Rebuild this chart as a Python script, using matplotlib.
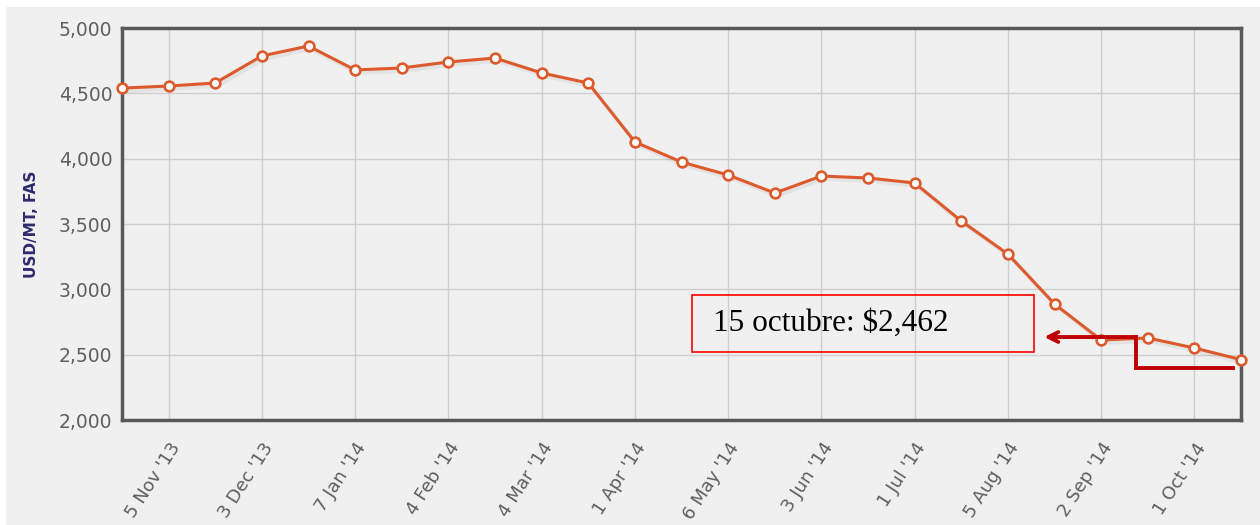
import matplotlib
matplotlib.use("Agg")
import matplotlib.pyplot as plt
from matplotlib.patches import Rectangle

# Data (biweekly prices, USD/MT FAS)
prices = [4540, 4556, 4579, 4786, 4862, 4679, 4694, 4740, 4770, 4656, 4579,
          4128, 3974, 3875, 3737, 3867, 3852, 3814, 3523, 3270, 2888, 2612,
          2628, 2551, 2462]
tick_idx = [1, 3, 5, 7, 9, 11, 13, 15, 17, 19, 21, 23]
tick_labels = ["5 Nov '13", "3 Dec '13", "7 Jan '14", "4 Feb '14", "4 Mar '14",
               "1 Apr '14", "6 May '14", "3 Jun '14", "1 Jul '14", "5 Aug '14",
               "2 Sep '14", "1 Oct '14"]
y_ticks = [2000, 2500, 3000, 3500, 4000, 4500, 5000]
annot_text = "15 octubre: $2,462"

bg = "#eff0ef"
fig = plt.figure(figsize=(12.6, 5.25), dpi=100)
fig.patch.set_facecolor("white")
bgax = fig.add_axes([6/1260, 0, 1 - 6/1260, 1 - 7/525], zorder=-10)
bgax.set_axis_off()
bgax.add_patch(Rectangle((0, 0), 1, 1, transform=bgax.transAxes,
                         facecolor=bg, edgecolor="none"))

ax = fig.add_axes([122/1260, 105/525, (1241-122)/1260, (420-28)/525], zorder=1)
ax.set_facecolor(bg)
x = list(range(len(prices)))

# subtle shadow
ax.plot([v + 0.05 for v in x], [p - 22 for p in prices], color="#000000",
        alpha=0.05, lw=3.0, zorder=2, solid_capstyle="round")
ax.plot(x, prices, color="#dd5a2c", lw=2.2, marker="o", markersize=7,
        markerfacecolor="white", markeredgecolor="#dd5a2c", markeredgewidth=1.9,
        zorder=3, clip_on=False)

ax.set_xlim(0, len(prices) - 1)
ax.set_ylim(2000, 5000)
ax.set_yticks(y_ticks)
ax.set_yticklabels([f"{v:,}" for v in y_ticks], fontsize=13.5, color="#5f5f5f")
ax.set_xticks(tick_idx)
ax.set_xticklabels(tick_labels, rotation=57, ha="right", rotation_mode="anchor",
                   fontsize=13, color="#5f5f5f")
ax.tick_params(axis="both", length=0)
ax.tick_params(axis="y", pad=7)
ax.tick_params(axis="x", pad=14)
ax.grid(True, color="#cdcecd", lw=1.0)
ax.set_axisbelow(True)
for s in ax.spines.values():
    s.set_color("#595959")
    s.set_linewidth(2.5)

ax.set_ylabel("USD/MT, FAS", fontsize=11, fontweight="bold", color="#2e2a6e",
              labelpad=14)

# annotation box
ax.add_patch(Rectangle((12.22, 2520), 19.55 - 12.22, 2957 - 2520, fill=False,
                       edgecolor="#ff0000", lw=1.2, zorder=5))
ax.text(12.68, 2738, annot_text, fontsize=22.5, family="Liberation Serif",
        color="black", va="center", ha="left", zorder=6)
# arrow and step line
ax.plot([21.74, 21.74, 23.82], [2635, 2398, 2398], color="#c00000", lw=2.8,
        zorder=6, solid_joinstyle="miter")
ax.annotate("", xy=(19.72, 2635), xytext=(21.80, 2635),
            arrowprops=dict(arrowstyle="->,head_length=0.7,head_width=0.35",
                            color="#c00000", lw=2.8), zorder=6)

fig.savefig("out.png", dpi=100, facecolor=fig.get_facecolor())
